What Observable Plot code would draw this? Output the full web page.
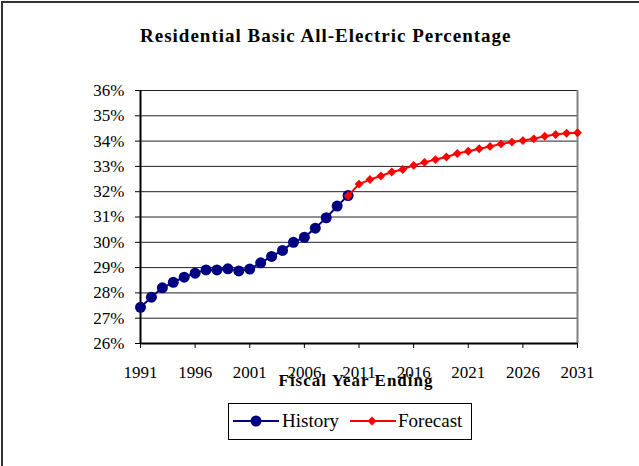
<!DOCTYPE html>
<html>
<head>
<meta charset="utf-8">
<script src="https://cdn.jsdelivr.net/npm/d3@7"></script>
<script src="https://cdn.jsdelivr.net/npm/@observablehq/plot@0.6"></script>
<style>
  html, body { margin: 0; padding: 0; background: #fff; }
  #wrap { position: relative; width: 639px; height: 466px; overflow: hidden; font-family: "Liberation Serif", "Times New Roman", serif; }
  #frame { position: absolute; left: 1px; top: 1px; width: 700px; height: 500px; border-left: 2px solid #333; border-top: 2px solid #333; }
  #title { position: absolute; left: 140px; top: 25px; white-space: nowrap; font-weight: bold; font-size: 19px; letter-spacing: 1px; color: #000; }
  #legend { position: absolute; left: 228px; top: 403px; width: 242px; height: 35px; border: 1px solid #000; color: #000; font-size: 19px; }
  #legend svg, #legend span { position: absolute; }
  #legend span { top: 7px; line-height: 20px; white-space: nowrap; }
  #chart { position: absolute; left: 0; top: 0; }
</style>
</head>
<body>
<div id="wrap">
  <div id="frame"></div>
  <div id="chart"></div>
  <div id="title"></div>
  <div id="legend"></div>
</div>
<script>
const chartTitle = "Residential Basic All-Electric Percentage";
const xTitle = "Fiscal Year Ending";
const seriesNames = ["History", "Forecast"];
const seriesColors = ["#000080", "#ff0000"];

const historyYears = [1991, 1992, 1993, 1994, 1995, 1996, 1997, 1998, 1999, 2000,
                      2001, 2002, 2003, 2004, 2005, 2006, 2007, 2008, 2009, 2010];
const historyValues = [27.43, 27.83, 28.20, 28.42, 28.62, 28.78, 28.91, 28.91, 28.95, 28.87,
                       28.94, 29.19, 29.44, 29.68, 30.00, 30.20, 30.56, 30.97, 31.43, 31.85];

const forecastYears = [2010, 2011, 2012, 2013, 2014, 2015, 2016, 2017, 2018, 2019, 2020,
                       2021, 2022, 2023, 2024, 2025, 2026, 2027, 2028, 2029, 2030, 2031];
const forecastValues = [31.84, 32.30, 32.48, 32.62, 32.78, 32.88, 33.04, 33.16, 33.27, 33.37, 33.51,
                        33.60, 33.70, 33.79, 33.89, 33.96, 34.02, 34.09, 34.19, 34.26, 34.31, 34.33];

const xTicks = [1991, 1996, 2001, 2006, 2011, 2016, 2021, 2026, 2031];
const yTicks = [26, 27, 28, 29, 30, 31, 32, 33, 34, 35, 36];

const history = historyYears.map((y, i) => ({year: y, value: historyValues[i]}));
const forecast = forecastYears.map((y, i) => ({year: y, value: forecastValues[i]}));

document.getElementById("title").textContent = chartTitle;

const chart = Plot.plot({
  width: 639,
  height: 466,
  marginLeft: 140,
  marginRight: 62,
  marginTop: 90,
  marginBottom: 123,
  style: { fontFamily: "Liberation Serif, Times New Roman, serif", fontSize: "17px", color: "#000", background: "transparent", overflow: "visible" },
  x: { domain: [1991, 2031] },
  y: { domain: [26, 36] },
  marks: [
    Plot.ruleY(yTicks, { stroke: "#222", strokeWidth: 1 }),
    Plot.ruleX([2031], { stroke: "#808080", strokeWidth: 2 }),
    Plot.ruleX([1991], { stroke: "#000", strokeWidth: 2 }),
    Plot.ruleY([26], { stroke: "#000", strokeWidth: 2 }),
    Plot.axisY({ ticks: yTicks, tickFormat: d => d + "%", tickSize: 5, tickPadding: 11, label: null, fontSize: 17 }),
    Plot.axisX({ ticks: xTicks, tickFormat: d => String(d), tickSize: 5, tickPadding: 17, label: null, fontSize: 17 }),
    Plot.text([xTitle], { frameAnchor: "bottom", dy: 42, dx: -3, fontWeight: "bold", fontSize: 17, letterSpacing: 1 }),
    Plot.line(history, { x: "year", y: "value", stroke: seriesColors[0], strokeWidth: 2 }),
    Plot.dot(history, { x: "year", y: "value", r: 5.5, fill: seriesColors[0], stroke: "none" }),
    Plot.line(forecast, { x: "year", y: "value", stroke: seriesColors[1], strokeWidth: 2 }),
    Plot.dot(forecast, { x: "year", y: "value", symbol: "diamond2", r: 4, fill: seriesColors[1], stroke: "none" })
  ]
});
// letter spacing for the x title
chart.querySelectorAll("text").forEach(t => { if (t.textContent === xTitle) t.setAttribute("letter-spacing", "1"); });
document.getElementById("chart").appendChild(chart);

// Legend (positions relative to legend box at left 228)
const legend = document.getElementById("legend");
const ns = "http://www.w3.org/2000/svg";
const legendSpecs = [
  { name: seriesNames[0], color: seriesColors[0], shape: "circle", lineX: 4, textX: 53 },
  { name: seriesNames[1], color: seriesColors[1], shape: "diamond", lineX: 121, textX: 169 }
];
legendSpecs.forEach(s => {
  const svg = document.createElementNS(ns, "svg");
  svg.setAttribute("width", 46);
  svg.setAttribute("height", 14);
  svg.style.left = s.lineX + "px";
  svg.style.top = "10px";
  const line = document.createElementNS(ns, "line");
  line.setAttribute("x1", 0); line.setAttribute("x2", 46);
  line.setAttribute("y1", 7); line.setAttribute("y2", 7);
  line.setAttribute("stroke", s.color); line.setAttribute("stroke-width", 2);
  svg.appendChild(line);
  if (s.shape === "circle") {
    const c = document.createElementNS(ns, "circle");
    c.setAttribute("cx", 23); c.setAttribute("cy", 7); c.setAttribute("r", 5.5);
    c.setAttribute("fill", s.color);
    svg.appendChild(c);
  } else {
    const p = document.createElementNS(ns, "path");
    p.setAttribute("d", "M22,2.5L26.5,7L22,11.5L17.5,7Z");
    p.setAttribute("fill", s.color);
    svg.appendChild(p);
  }
  legend.appendChild(svg);
  const label = document.createElement("span");
  label.textContent = s.name;
  label.style.left = s.textX + "px";
  legend.appendChild(label);
});
</script>
</body>
</html>
